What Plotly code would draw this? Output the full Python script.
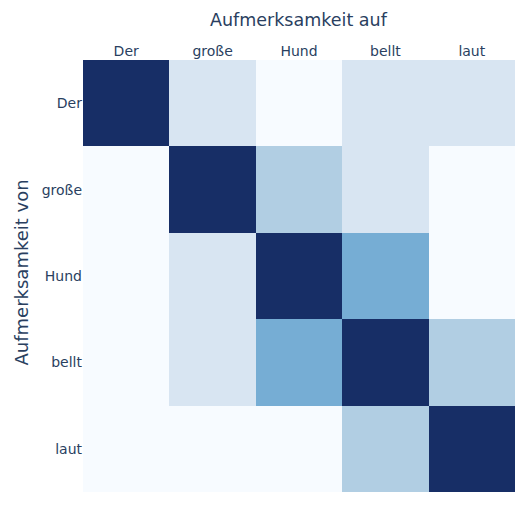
import plotly.graph_objects as go

tokens = ["Der", "große", "Hund", "bellt", "laut"]
weights = [
    [1.0, 0.15, 0.0, 0.15, 0.15],
    [0.0, 1.0, 0.3, 0.15, 0.0],
    [0.0, 0.15, 1.0, 0.5, 0.0],
    [0.0, 0.15, 0.5, 1.0, 0.3],
    [0.0, 0.0, 0.0, 0.3, 1.0],
]
x_title = "Aufmerksamkeit auf"
y_title = "Aufmerksamkeit von"

blues = [
    [0.0, "rgb(247,251,255)"],
    [0.15, "rgb(216,229,242)"],
    [0.3, "rgb(177,206,227)"],
    [0.5, "rgb(118,173,212)"],
    [0.75, "rgb(60,110,170)"],
    [1.0, "rgb(23,46,102)"],
]

fig = go.Figure(go.Heatmap(
    z=weights, x=tokens, y=tokens,
    colorscale=blues, zmin=0, zmax=1, showscale=False,
))
fig.update_layout(
    width=525, height=506,
    margin=dict(l=75, r=18, t=52, b=22),
    plot_bgcolor="white", paper_bgcolor="white",
    font=dict(family="DejaVu Sans, Verdana, sans-serif", color="#2a3f5f"),
    annotations=[
        dict(text=x_title, xref="paper", yref="paper", x=0.5, y=1,
             xanchor="center", yanchor="top", yshift=52, showarrow=False,
             font=dict(size=17.5)),
        dict(text=y_title, xref="paper", yref="paper", x=0, y=0.5,
             xanchor="left", yanchor="middle", xshift=-75, yshift=3,
             textangle=-90, showarrow=False, font=dict(size=18)),
    ],
)
fig.update_xaxes(side="top", showgrid=False, zeroline=False,
                 tickfont=dict(size=14), ticks="", automargin=False)
fig.update_yaxes(autorange="reversed", showgrid=False, zeroline=False,
                 tickfont=dict(size=14), ticks="",
                 scaleanchor="x", constrain="domain", automargin=False)
fig.write_html("out.html")
